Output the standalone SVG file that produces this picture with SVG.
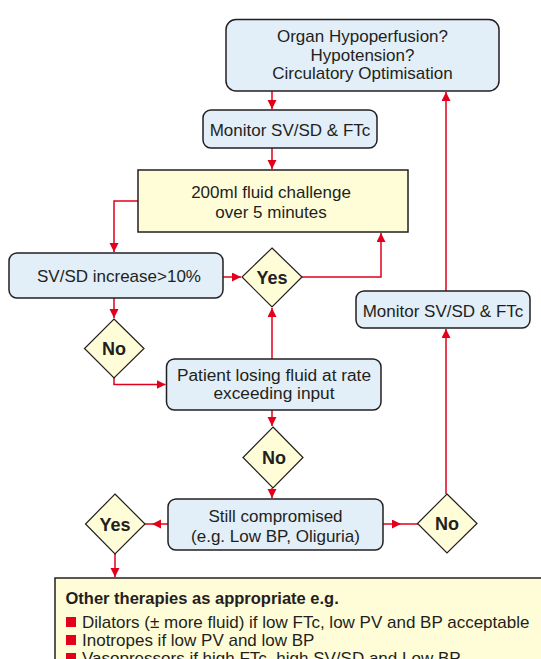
<svg xmlns="http://www.w3.org/2000/svg" width="541" height="659" viewBox="0 0 541 659">
<defs>
<marker id="ah" markerUnits="userSpaceOnUse" markerWidth="10" markerHeight="10" refX="9" refY="4.5" orient="auto">
<path d="M0,0 L9,4.5 L0,9 z" fill="#e2001a"/>
</marker>
<style>
.box{fill:#e2eef8;stroke:#231f20;stroke-width:1.5}
.ybox{fill:#fffcd8;stroke:#231f20;stroke-width:1.5}
.dia{fill:#fffcd8;stroke:#231f20;stroke-width:1.2}
.t{font-family:"Liberation Sans",Arial,sans-serif;font-size:17px;fill:#231f20;text-anchor:middle}
.b{font-family:"Liberation Sans",Arial,sans-serif;font-size:18px;font-weight:bold;fill:#231f20;text-anchor:middle}
.l{font-family:"Liberation Sans",Arial,sans-serif;font-size:17px;fill:#231f20}
.c{fill:none;stroke:#e2001a;stroke-width:1.5}
</style>
</defs>
<rect width="541" height="659" fill="#fff"/>
<g id="connectors">
<path class="c" d="M272,91 V109" marker-end="url(#ah)"/>
<path class="c" d="M272,148 V169" marker-end="url(#ah)"/>
<path class="c" d="M138,201 H114 V252" marker-end="url(#ah)"/>
<path class="c" d="M223,277 H241" marker-end="url(#ah)"/>
<path class="c" d="M302,277 H381 V233" marker-end="url(#ah)"/>
<path class="c" d="M114,298 V318" marker-end="url(#ah)"/>
<path class="c" d="M114,378 V384.5 H165.5" marker-end="url(#ah)"/>
<path class="c" d="M272,359 V308" marker-end="url(#ah)"/>
<path class="c" d="M272,410 V426" marker-end="url(#ah)"/>
<path class="c" d="M272,488 V498" marker-end="url(#ah)"/>
<path class="c" d="M168,524 H152" marker-end="url(#ah)"/>
<path class="c" d="M152,524 H145"/>
<path class="c" d="M383,524 H401" marker-end="url(#ah)"/>
<path class="c" d="M401,524 H418"/>
<path class="c" d="M446,494 V329" marker-end="url(#ah)"/>
<path class="c" d="M446,291 V92" marker-end="url(#ah)"/>
<path class="c" d="M115,554 V577" marker-end="url(#ah)"/>
</g>
<g id="top">
<rect class="box" x="226" y="19.5" width="273" height="71.5" rx="10"/>
<text class="t" x="362.5" y="42">Organ Hypoperfusion?</text>
<text class="t" x="362.5" y="60.5">Hypotension?</text>
<text class="t" x="362.5" y="79">Circulatory Optimisation</text>
</g>
<g id="monitor1">
<rect class="box" x="203" y="110" width="174" height="38" rx="8"/>
<text class="t" x="290" y="135.5">Monitor SV/SD &amp; FTc</text>
</g>
<g id="fluid">
<rect class="ybox" x="138" y="170" width="270" height="62"/>
<text class="t" x="271" y="198">200ml fluid challenge</text>
<text class="t" x="271" y="217.5">over 5 minutes</text>
</g>
<g id="svsd">
<rect class="box" x="9" y="253" width="214" height="45" rx="8"/>
<text class="t" x="119" y="282">SV/SD increase&gt;10%</text>
</g>
<g id="yes1">
<polygon class="dia" points="272,248 302,277 272,307 242,277"/>
<text class="b" x="272" y="283.5">Yes</text>
</g>
<g id="monitor2">
<rect class="box" x="356" y="291" width="174" height="37" rx="8"/>
<text class="t" x="443" y="316.5">Monitor SV/SD &amp; FTc</text>
</g>
<g id="no1">
<polygon class="dia" points="114,319 144,348.5 114,378 84.5,348.5"/>
<text class="b" x="114" y="355">No</text>
</g>
<g id="patient">
<rect class="box" x="166.5" y="359" width="214.5" height="51" rx="8"/>
<text class="t" x="274" y="380.5" style="font-size:17.3px">Patient losing fluid at rate</text>
<text class="t" x="274" y="399" style="font-size:17.3px">exceeding input</text>
</g>
<g id="no2">
<polygon class="dia" points="273,427 303,457.5 273,488 243,457.5"/>
<text class="b" x="274" y="464">No</text>
</g>
<g id="still">
<rect class="box" x="168" y="499" width="215" height="51" rx="8"/>
<text class="t" x="275.5" y="521.5">Still compromised</text>
<text class="t" x="275.5" y="541.5">(e.g. Low BP, Oliguria)</text>
</g>
<g id="yes3">
<polygon class="dia" points="115,494 145,524 115,554 85.5,524"/>
<text class="b" x="115" y="530.5">Yes</text>
</g>
<g id="no3">
<polygon class="dia" points="447,494 477,523.5 447,553 417.5,523.5"/>
<text class="b" x="447" y="530">No</text>
</g>
<g id="other">
<rect class="ybox" x="55" y="578" width="500" height="100"/>
<text class="l" x="65.5" y="604" style="font-weight:bold;font-size:16.5px">Other therapies as appropriate e.g.</text>
<rect x="66" y="617" width="10" height="10" fill="#e2001a"/>
<text class="l" x="82" y="628">Dilators (± more fluid) if low FTc, low PV and BP acceptable</text>
<rect x="66" y="635" width="10" height="10" fill="#e2001a"/>
<text class="l" x="82" y="646">Inotropes if low PV and low BP</text>
<rect x="66" y="653" width="10" height="10" fill="#e2001a"/>
<text class="l" x="82" y="664">Vasopressors if high FTc, high SV/SD and Low BP</text>
</g>
</svg>
